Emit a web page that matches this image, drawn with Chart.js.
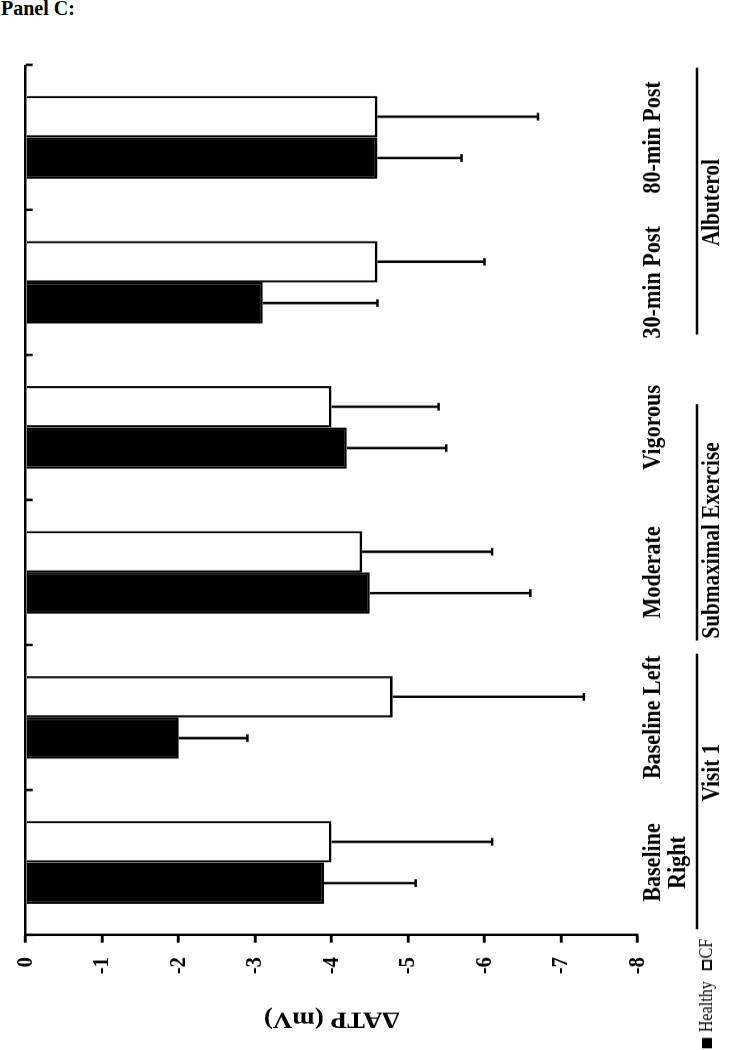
<!DOCTYPE html>
<html>
<head>
<meta charset="utf-8">
<script src="https://cdn.jsdelivr.net/npm/chart.js@4.4.0/dist/chart.umd.min.js"></script>
<style>
    body { margin: 0; background: #fff; width: 729px; height: 1050px; overflow: hidden; position: relative; font-family: "Liberation Serif", serif; }
    #panel { position: absolute; left: 1px; top: -3px; font-weight: bold; font-size: 20px; }
    /* chart is drawn upright, squeezed a little sideways, then turned a quarter turn left like the figure */
    #rot { position: absolute; left: 0; top: 0; width: 1235px; height: 729px; transform-origin: 0 0; transform: translateY(1050px) rotate(-90deg) scaleX(0.85); }
    #legend { position: absolute; left: 2px; top: 696px; font-size: 19px; line-height: 20px; white-space: nowrap; }
    .box { display: inline-block; width: 12px; height: 10px; border: 2px solid #000; box-sizing: border-box; vertical-align: 0px; }
    .box.fill { background: #000; margin-right: 2px; }
    .box.open { margin-left: 8px; margin-right: 2px; }
</style>
</head>
<body>
<div id="panel">Panel C:</div>
<div id="rot">
    <canvas id="chart" width="1235" height="729"></canvas>
    <div id="legend"><span class="box fill"></span> Healthy <span class="box open"></span>CF</div>
</div>
<script>
const categories = [['Baseline', 'Right'], 'Baseline Left', 'Moderate', 'Vigorous', '30-min Post', '80-min Post'];
const healthyMean = [-3.9, -2.0, -4.5, -4.2, -3.1, -4.6];
const healthySD = [1.2, 0.9, 2.1, 1.3, 1.5, 1.1];
const cfMean = [-4.0, -4.8, -4.4, -4.0, -4.6, -4.6];
const cfSD = [2.1, 2.5, 1.7, 1.4, 1.4, 2.1];
const yMin = -8;
const yMax = 0;
const groupNames = ['Visit 1', 'Submaximal Exercise', 'Albuterol'];

// group underline extents and label centres, in category units
const groupLines = [[-0.46, 1.44], [1.53, 3.16], [3.64, 5.48]];
const groupCenters = [0.62, 2.22, 4.55];

const extras = {
    id: 'extras',
    afterDraw(chart) {
        const ctx = chart.ctx;
        const x = chart.scales.x;
        const y = chart.scales.y;
        ctx.save();
        ctx.strokeStyle = '#000';
        ctx.fillStyle = '#000';

        // error bars (one sided, away from zero)
        [healthySD, cfSD].forEach((sd, d) => {
            const meta = chart.getDatasetMeta(d);
            meta.data.forEach((bar, i) => {
                const v = chart.data.datasets[d].data[i];
                const y0 = y.getPixelForValue(v);
                const y1 = y.getPixelForValue(v - sd[i]);
                ctx.lineWidth = 2.9;
                ctx.beginPath();
                ctx.moveTo(bar.x, y0);
                ctx.lineTo(bar.x, y1);
                ctx.stroke();
                ctx.lineWidth = 2.5;
                ctx.beginPath();
                ctx.moveTo(bar.x - 4.5, y1);
                ctx.lineTo(bar.x + 4.5, y1);
                ctx.stroke();
            });
        });

        // small category ticks on the zero line
        const zero = y.getPixelForValue(0);
        ctx.lineWidth = 2.9;
        for (let i = 0; i <= categories.length; i++) {
            const px = x.getPixelForValue(i - 0.5);
            ctx.beginPath();
            ctx.moveTo(px, zero);
            ctx.lineTo(px, zero + 7);
            ctx.stroke();
        }

        // group underlines and labels
        ctx.font = 'bold 25px "Liberation Serif"';
        ctx.textAlign = 'center';
        ctx.textBaseline = 'middle';
        groupNames.forEach((name, g) => {
            const a = x.getPixelForValue(groupLines[g][0]);
            const b = x.getPixelForValue(groupLines[g][1]);
            ctx.lineWidth = 2.5;
            ctx.beginPath();
            ctx.moveTo(a, 697);
            ctx.lineTo(b, 697);
            ctx.stroke();
            ctx.fillText(name, x.getPixelForValue(groupCenters[g]), 713);
        });
        ctx.restore();
    }
};

new Chart(document.getElementById('chart'), {
    type: 'bar',
    data: {
        labels: categories,
        datasets: [
            {
                label: 'Healthy',
                data: healthyMean,
                backgroundColor: '#000',
                borderColor: '#000',
                borderWidth: 2.6
            },
            {
                label: 'CF',
                data: cfMean,
                backgroundColor: '#fff',
                borderColor: '#000',
                borderWidth: 2.6
            }
        ]
    },
    options: {
        responsive: false,
        animation: false,
        categoryPercentage: 0.57,
        barPercentage: 1,
        layout: { padding: { top: 25.7, right: 76, left: 0, bottom: 0 } },
        plugins: {
            legend: { display: false },
            tooltip: { enabled: false }
        },
        scales: {
            x: {
                position: 'bottom',
                border: { display: false },
                grid: { display: false, drawTicks: false },
                ticks: {
                    color: '#000',
                    font: { family: 'Liberation Serif', size: 26, weight: 'bold', lineHeight: 0.95 },
                    padding: 4,
                    maxRotation: 0,
                    autoSkip: false
                },
                afterFit: s => { s.height = 91.6; }
            },
            y: {
                min: yMin,
                max: yMax,
                border: { display: true, color: '#000', width: 2.9 },
                grid: {
                    color: c => (c.tick && c.tick.value === 0 ? '#000' : 'rgba(0,0,0,0)'),
                    lineWidth: 2.5,
                    tickColor: '#000',
                    tickWidth: 2.9,
                    tickLength: 9
                },
                ticks: {
                    stepSize: 1,
                    color: '#000',
                    padding: 17,
                    font: { family: 'Liberation Serif', size: 24, weight: 'bold' }
                },
                title: {
                    display: true,
                    text: 'ΔATP (mV)',
                    color: '#000',
                    font: { family: 'Liberation Serif', size: 27, weight: 'bold' },
                    padding: { top: 21, bottom: 0 }
                },
                afterFit: s => {
                    s.width = 135.3;
                    s.paddingTop = 10;
                    s.paddingBottom = 10;
                }
            }
        }
    },
    plugins: [extras]
});
</script>
</body>
</html>
